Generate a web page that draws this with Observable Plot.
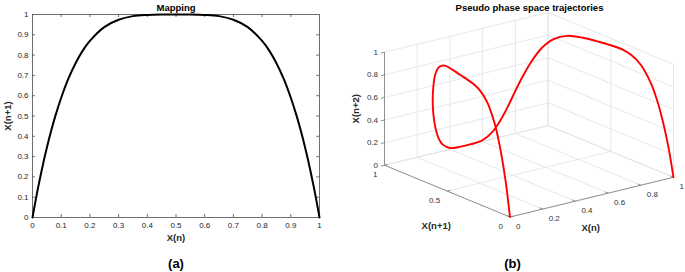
<!DOCTYPE html>
<html>
<head>
<meta charset="utf-8">
<script src="https://cdn.jsdelivr.net/npm/d3@7"></script>
<script src="https://cdn.jsdelivr.net/npm/@observablehq/plot@0.6"></script>
<style>
  html, body { margin: 0; padding: 0; background: #fff; }
  #wrap { display: flex; width: 685px; height: 272px; overflow: hidden; }
  #wrap svg { display: block; flex: none; }
</style>
</head>
<body>
<div id="wrap"></div>
<script>
// ---------- DATA ----------
// Panel (a): map X(n) -> X(n+1)
const mapXn  = [0,0.005,0.01,0.02,0.03,0.04,0.05,0.065,0.08,0.1,0.125,0.15,0.175,0.2,0.25,0.3,0.35,0.4,0.45,0.5,0.55,0.6,0.65,0.7,0.75,0.8,0.825,0.85,0.875,0.9,0.92,0.935,0.95,0.96,0.97,0.98,0.99,0.995,1];
const mapXn1 = [0,0.039,0.078,0.151,0.219,0.284,0.344,0.427,0.502,0.590,0.684,0.760,0.822,0.870,0.938,0.974,0.992,0.998,1.0,1.0,1.0,0.998,0.992,0.974,0.938,0.870,0.822,0.760,0.684,0.590,0.502,0.427,0.344,0.284,0.219,0.151,0.078,0.039,0];

// Panel (b): pseudo phase space trajectory (X(n), X(n+1), X(n+2))
const trajXn  = [0,0.0025,0.005,0.01,0.015,0.02,0.03,0.04,0.05,0.065,0.08,0.1,0.125,0.15,0.175,0.2,0.225,0.25,0.275,0.3,0.325,0.35,0.4,0.45,0.5,0.55,0.6,0.65,0.675,0.7,0.725,0.75,0.775,0.8,0.825,0.85,0.875,0.9,0.92,0.935,0.95,0.96,0.97,0.98,0.985,0.99,0.995,0.9975,1];
const trajXn1 = [0,0.020,0.039,0.078,0.115,0.151,0.219,0.284,0.344,0.427,0.502,0.590,0.684,0.760,0.822,0.870,0.909,0.938,0.959,0.974,0.985,0.992,0.998,1.0,1.0,1.0,0.998,0.992,0.985,0.974,0.959,0.938,0.909,0.870,0.822,0.760,0.684,0.590,0.502,0.427,0.344,0.284,0.219,0.151,0.115,0.078,0.039,0.020,0];
const trajXn2 = [0,0.150,0.280,0.491,0.647,0.762,0.901,0.965,0.991,0.9995,1.0,0.999,0.982,0.927,0.829,0.699,0.554,0.414,0.290,0.190,0.115,0.063,0.013,0.001,0,0.001,0.013,0.063,0.115,0.190,0.290,0.414,0.554,0.699,0.829,0.927,0.982,0.999,1.0,0.9995,0.991,0.965,0.901,0.762,0.647,0.491,0.280,0.150,0];

// Tick values
const ticksA = [0,0.1,0.2,0.3,0.4,0.5,0.6,0.7,0.8,0.9,1];
const ticksBx = [0,0.2,0.4,0.6,0.8,1];
const ticksBy = [0,0.5,1];
const ticksBz = [0,0.2,0.4,0.6,0.8,1];

// Texts
const titleA = "Mapping", titleB = "Pseudo phase space trajectories";
const labelXn = "X(n)", labelXn1 = "X(n+1)", labelXn2 = "X(n+2)";
const capA = "(a)", capB = "(b)";

// ---------- STYLE ----------
const font = '"Liberation Sans", Arial, Helvetica, sans-serif';
const axisCol = "#4d4d4d";
const gridCol = "#dedede";
const fmt = d => String(d);

// ---------- PANEL A ----------
const innerA = ticksA.slice(1, -1);
const mapData = mapXn.map((x, i) => ({x, y: mapXn1[i]}));
const plotA = Plot.plot({
  width: 340, height: 272,
  marginLeft: 32, marginRight: 21, marginTop: 14, marginBottom: 55,
  x: {domain: [0, 1]}, y: {domain: [0, 1]},
  style: {fontFamily: font, color: "#262626", background: "white", overflow: "visible"},
  marks: [
    Plot.ruleX(innerA, {x: d => d, y1: 0, y2: 0.015, stroke: axisCol, strokeWidth: 0.8}),
    Plot.ruleX(innerA, {x: d => d, y1: 1, y2: 0.985, stroke: axisCol, strokeWidth: 0.8}),
    Plot.ruleY(innerA, {y: d => d, x1: 0, x2: 0.01, stroke: axisCol, strokeWidth: 0.8}),
    Plot.ruleY(innerA, {y: d => d, x1: 1, x2: 0.99, stroke: axisCol, strokeWidth: 0.8}),
    Plot.frame({stroke: axisCol, strokeWidth: 0.8}),
    Plot.axisX({ticks: ticksA, tickSize: 0, tickPadding: 5, fontSize: 8, tickFormat: fmt, label: null}),
    Plot.axisY({ticks: ticksA, tickSize: 0, tickPadding: 4, fontSize: 8, tickFormat: fmt, label: null}),
    Plot.line(mapData, {x: "x", y: "y", stroke: "#000", strokeWidth: 2, curve: "catmull-rom"}),
    Plot.text([titleA], {x: 0.5, y: 1, dy: -7, fontWeight: "bold", fontSize: 9.5, fill: "#000"}),
    Plot.text([labelXn], {x: 0.5, y: 0, dy: 20, fontWeight: "bold", fontSize: 9.5, fill: "#262626"}),
    Plot.text([labelXn1], {x: 0, y: 0.5, dx: -24.5, rotate: -90, fontWeight: "bold", fontSize: 9.5, fill: "#262626"}),
    Plot.text([capA], {x: 0.5, y: 0, dy: 46, fontWeight: "bold", fontSize: 13, fill: "#000"})
  ]
});

// ---------- PANEL B (3-D view, az = -37.5°, el = 30°) ----------
const az = -37.5 * Math.PI / 180, el = 30 * Math.PI / 180;
const pu = (x, y, z) => Math.cos(az) * x + Math.sin(az) * y;
const pv = (x, y, z) => -Math.sin(el) * Math.sin(az) * x + Math.sin(el) * Math.cos(az) * y + Math.cos(el) * z;
const vmax = pv(1, 1, 1);

function seg(a, b) { return {x1: pu(...a), y1: pv(...a), x2: pu(...b), y2: pv(...b)}; }
const grid = [];
ticksBx.forEach(x => { grid.push(seg([x,0,0],[x,1,0])); grid.push(seg([x,1,0],[x,1,1])); });
ticksBy.forEach(y => { grid.push(seg([0,y,0],[1,y,0])); grid.push(seg([1,y,0],[1,y,1])); });
ticksBz.forEach(z => { grid.push(seg([0,1,z],[1,1,z])); grid.push(seg([1,0,z],[1,1,z])); });
const axes = [seg([0,0,0],[1,0,0]), seg([0,0,0],[0,1,0]), seg([0,1,0],[0,1,1])];
const tickSegs = [
  ...ticksBx.map(x => seg([x,0,0],[x,0.025,0])),
  ...ticksBy.map(y => seg([0,y,0],[0.02,y,0])),
  ...ticksBz.map(z => seg([0,1,z],[-0.022,1,z]))
];
const traj = trajXn.map((x, i) => ({u: pu(x, trajXn1[i], trajXn2[i]), v: pv(x, trajXn1[i], trajXn2[i])}));

const plotB = Plot.plot({
  width: 345, height: 272,
  marginLeft: 0, marginRight: 0, marginTop: 0, marginBottom: 0,
  x: {domain: [pu(0,1,0), pu(1,0,0)], range: [44, 333], axis: null},
  y: {domain: [0, vmax], range: [216.5, 216.5 - 130.5 * vmax], axis: null},
  style: {fontFamily: font, color: "#262626", background: "white", overflow: "visible"},
  marks: [
    Plot.link(grid, {x1: "x1", y1: "y1", x2: "x2", y2: "y2", stroke: gridCol, strokeWidth: 0.7}),
    Plot.link(axes, {x1: "x1", y1: "y1", x2: "x2", y2: "y2", stroke: "#7a7a7a", strokeWidth: 0.8}),
    Plot.link(tickSegs, {x1: "x1", y1: "y1", x2: "x2", y2: "y2", stroke: "#7a7a7a", strokeWidth: 0.8}),
    Plot.text(ticksBx, {x: d => pu(d,0,0), y: d => pv(d,0,0), dx: 6, dy: 9, textAnchor: "start", text: fmt, fontSize: 8, fill: "#333"}),
    Plot.text(ticksBy, {x: d => pu(0,d,0), y: d => pv(0,d,0), dx: -7, dy: 9, textAnchor: "end", text: fmt, fontSize: 8, fill: "#333"}),
    Plot.text(ticksBz, {x: d => pu(0,1,d), y: d => pv(0,1,d), dx: -6.5, textAnchor: "end", text: fmt, fontSize: 8, fill: "#333"}),
    Plot.line(traj, {x: "u", y: "v", stroke: "#ff0000", strokeWidth: 1.9, curve: "catmull-rom"}),
    Plot.text([labelXn], {x: pu(0.5,0,0), y: pv(0.5,0,0), dx: -1, dy: 31, fontWeight: "bold", fontSize: 9.5, fill: "#262626"}),
    Plot.text([labelXn1], {x: pu(0,0.5,0), y: pv(0,0.5,0), dx: -11, dy: 35, fontWeight: "bold", fontSize: 9.5, fill: "#262626"}),
    Plot.text([labelXn2], {x: pu(0,1,0.5), y: pv(0,1,0.5), dx: -29, rotate: -90, fontWeight: "bold", fontSize: 9.5, fill: "#262626"}),
    Plot.text([titleB], {frameAnchor: "top-left", dx: 189, dy: 7, lineAnchor: "middle", textAnchor: "middle", fontWeight: "bold", fontSize: 9.5, fill: "#000"}),
    Plot.text([capB], {frameAnchor: "top-left", dx: 172, dy: 263, lineAnchor: "middle", textAnchor: "middle", fontWeight: "bold", fontSize: 13, fill: "#000"})
  ]
});

const wrap = document.getElementById("wrap");
wrap.appendChild(plotA);
wrap.appendChild(plotB);
</script>
</body>
</html>
